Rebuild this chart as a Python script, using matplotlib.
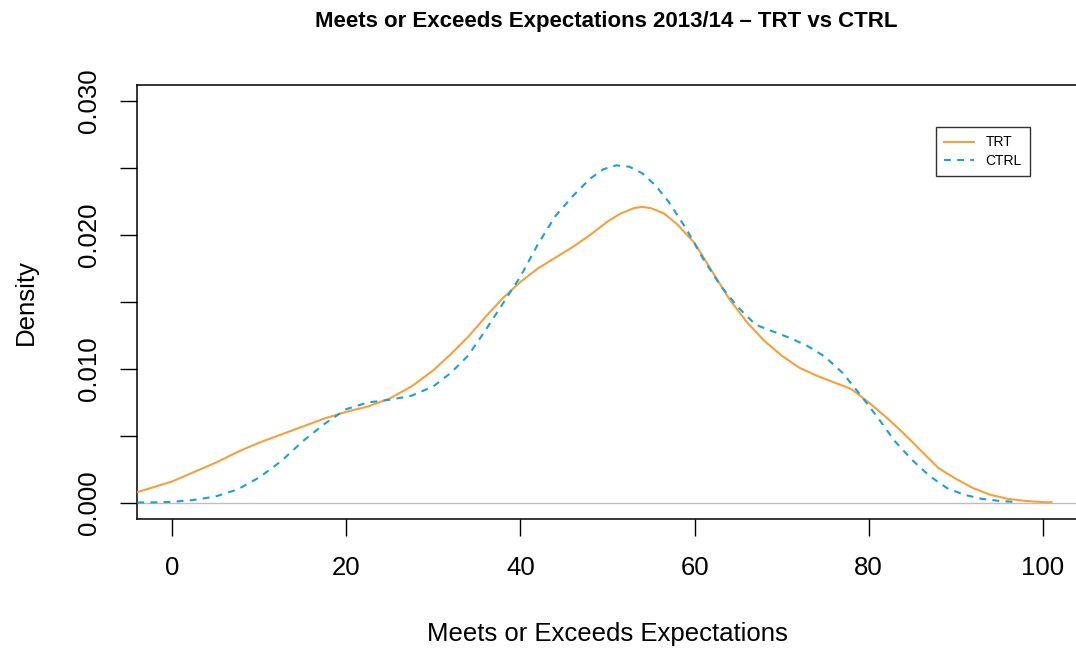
import matplotlib
matplotlib.use('Agg')
import matplotlib.pyplot as plt

plt.rcParams['font.family'] = ['Liberation Sans', 'DejaVu Sans']

# ── data (density estimates) ──
trt_x = [-4, -2, 0, 2.5, 5, 7.5, 10, 12.5, 15, 17.5, 20, 22.5, 25, 27.5, 30,
         32, 34, 36, 38, 40, 42, 44, 46, 48, 50, 51.5, 53, 54, 55, 56.5, 58,
         60, 62, 64, 66, 68, 70, 72, 74, 76, 78, 80, 82, 84, 86, 88, 90, 92,
         94, 96, 98, 100, 101]
trt_y = [0.0008, 0.0012, 0.0016, 0.0023, 0.0030, 0.0038, 0.0045, 0.0051,
         0.0057, 0.0063, 0.0068, 0.0072, 0.0078, 0.0087, 0.0099, 0.0111,
         0.0124, 0.0139, 0.0153, 0.0165, 0.0175, 0.0183, 0.0191, 0.0200,
         0.0210, 0.0216, 0.0220, 0.0221, 0.0220, 0.0216, 0.0208,
         0.0194, 0.0173, 0.0152, 0.0135, 0.0121, 0.0110, 0.0101, 0.0095,
         0.0090, 0.0085, 0.0075, 0.0064, 0.0052, 0.0039, 0.0026, 0.0018,
         0.0011, 0.0006, 0.0003, 0.00015, 0.00006, 0.00004]

ctrl_x = [-4, -2, 0, 2.5, 5, 7.5, 10, 12.5, 15, 17.5, 20, 22.5, 25, 27.5, 30,
          32, 34, 36, 38, 40, 42, 44, 46, 48, 49.5, 51, 52.5, 54, 55.5, 57,
          59, 61, 63, 65, 67, 69, 71, 73, 75, 77, 79, 81, 83, 85, 87, 89, 91,
          93, 95, 96.8]
ctrl_y = [0.00003, 0.00004, 0.00008, 0.00022, 0.00048, 0.0010, 0.0019,
          0.0031, 0.0046, 0.0059, 0.0070, 0.0075, 0.0077, 0.0080, 0.0087,
          0.0097, 0.0110, 0.0129, 0.0149, 0.0169, 0.0193, 0.0214, 0.0229,
          0.0242, 0.0249, 0.0252, 0.0251, 0.0246, 0.0237, 0.0225, 0.0205,
          0.0182, 0.0162, 0.0146, 0.0133, 0.0128, 0.0123, 0.0117, 0.0109,
          0.0097, 0.0081, 0.0064, 0.0046, 0.0032, 0.0020, 0.0011, 0.0006,
          0.0003, 0.00015, 0.00007]

x_ticks = [0, 20, 40, 60, 80, 100]
y_ticks = [0.000, 0.005, 0.010, 0.015, 0.020, 0.025, 0.030]
y_tick_labels = ['0.000', '', '0.010', '', '0.020', '', '0.030']

TRT_COLOR = '#F7A03A'
CTRL_COLOR = '#1BA1D9'
FS = 18.5

fig = plt.figure(figsize=(10.76, 6.51), dpi=100)
ax = fig.add_axes([0.1276, 0.2028, 0.874, 0.6667])

ax.axhline(0, color='#BEBEBE', linewidth=1.0, zorder=1)
ax.plot(trt_x, trt_y, color=TRT_COLOR, linewidth=1.5, label='TRT', zorder=3)
ax.plot(ctrl_x, ctrl_y, color=CTRL_COLOR, linewidth=1.5, linestyle=(0, (3.3, 3.0)),
        label='CTRL', zorder=3)

ax.set_xlim(-4, 104)
ax.set_ylim(-0.0012, 0.0312)
ax.set_xticks(x_ticks)
ax.set_xticklabels([str(t) for t in x_ticks])
ax.set_yticks(y_ticks)
ax.set_yticklabels(y_tick_labels, rotation=90, va='center')

ax.tick_params(axis='both', direction='out', length=12, width=1.0,
               labelsize=FS, colors='black')
ax.tick_params(axis='x', pad=15)
ax.tick_params(axis='y', pad=14)
for s in ax.spines.values():
    s.set_linewidth(1.1)
    s.set_color('black')

ax.set_xlabel('Meets or Exceeds Expectations', fontsize=FS, labelpad=30)
ax.set_ylabel('Density', fontsize=FS, labelpad=28)
fig.text(0.5 * (0.1276 + 1.0), 1 - 21 / 651,
         'Meets or Exceeds Expectations 2013/14 \u2013 TRT vs CTRL',
         ha='center', va='center', fontsize=16, fontweight='bold')

leg = ax.legend(loc='upper right', bbox_to_anchor=(0.9494, 0.903), fontsize=10,
                frameon=True, fancybox=False, handlelength=2.2,
                borderpad=0.6, labelspacing=0.3, handletextpad=0.8,
                borderaxespad=0)
leg.get_frame().set_edgecolor('black')
leg.get_frame().set_linewidth(1.0)

fig.savefig('out.png', dpi=100)
